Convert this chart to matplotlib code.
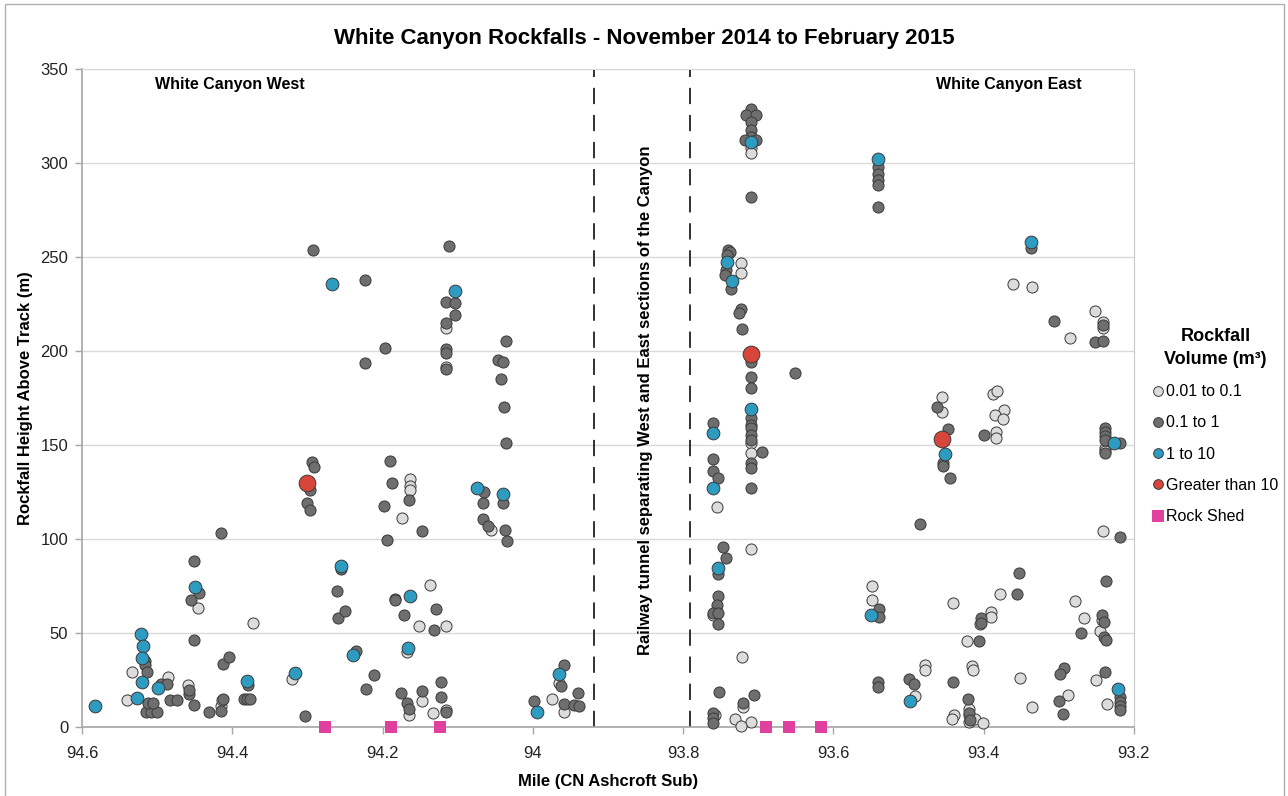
import matplotlib
matplotlib.use("Agg")
import matplotlib.pyplot as plt
from matplotlib.lines import Line2D
from matplotlib.patches import Rectangle

# rockfall location (mile) and height above track (m), grouped by volume class
small_mile = [94.540, 94.533, 94.485, 94.459, 94.446, 94.415, 94.414, 94.373, 94.321,
              94.164, 94.164, 94.163, 94.174, 94.152, 94.137, 94.115, 94.167, 94.165,
              94.147, 94.133, 94.115, 94.115, 94.115, 94.056, 93.975, 93.965, 93.958,
              93.710, 93.710, 93.710, 93.710, 93.710, 93.710, 93.723, 93.723, 93.755,
              93.760, 93.722, 93.720, 93.731, 93.723, 93.758, 93.548, 93.548, 93.361,
              93.336, 93.285, 93.252, 93.241, 93.241, 93.455, 93.456, 93.388, 93.382,
              93.373, 93.385, 93.374, 93.383, 93.383, 93.239, 93.239, 93.241, 93.378,
              93.279, 93.267, 93.242, 93.245, 93.441, 93.390, 93.390, 93.405, 93.422,
              93.351, 93.250, 93.236, 93.288, 93.336, 93.478, 93.478, 93.492, 93.416,
              93.414, 93.420, 93.420, 93.440, 93.442, 93.420, 93.411, 93.401]
small_height = [14.4, 29.4, 26.7, 22.4, 63.1, 10.9, 14.5, 55.5, 25.3,
                132.0, 128.4, 125.8, 111.0, 53.7, 75.6, 53.7, 39.8, 6.4,
                14.0, 7.3, 9.0, 212.0, 191.7, 105.0, 14.7, 23.2, 8.2,
                307.8, 305.2, 151.2, 145.6, 94.5, 2.8, 247.0, 241.7, 116.9,
                59.5, 37.4, 10.5, 4.3, 0.7, 6.5, 75.2, 67.5, 235.4,
                234.0, 207.0, 221.3, 215.5, 212.0, 175.5, 167.7, 177.0, 178.8,
                168.6, 165.8, 164.0, 157.0, 153.8, 148.5, 146.9, 104.0, 71.0,
                67.0, 57.8, 57.0, 51.3, 65.9, 61.3, 58.7, 54.8, 46.0,
                25.9, 25.0, 12.3, 17.0, 10.8, 33.0, 30.3, 16.7, 32.5,
                30.5, 9.4, 6.4, 6.4, 4.1, 2.8, 4.0, 2.3]

medium_mile = [94.515, 94.508, 94.500, 94.512, 94.505, 94.516, 94.516, 94.514, 94.495,
               94.487, 94.483, 94.473, 94.458, 94.457, 94.451, 94.431, 94.415, 94.412,
               94.412, 94.404, 94.451, 94.444, 94.455, 94.451, 94.415, 94.379, 94.385,
               94.380, 94.376, 94.303, 94.292, 94.223, 94.197, 94.223, 94.294, 94.291,
               94.297, 94.300, 94.297, 94.255, 94.261, 94.260, 94.250, 94.235, 94.212,
               94.222, 94.190, 94.187, 94.198, 94.194, 94.165, 94.148, 94.184, 94.183,
               94.172, 94.129, 94.131, 94.176, 94.168, 94.165, 94.148, 94.122, 94.122,
               94.115, 94.112, 94.115, 94.104, 94.104, 94.115, 94.115, 94.115, 94.115,
               94.036, 94.046, 94.040, 94.043, 94.039, 94.036, 94.065, 94.066, 94.067,
               94.060, 94.040, 94.037, 94.035, 93.999, 93.959, 93.963, 93.959, 93.940,
               93.945, 93.938,
               93.710, 93.717, 93.703, 93.710, 93.710, 93.710, 93.718, 93.703, 93.710,
               93.710, 93.710, 93.710, 93.710, 93.710, 93.710, 93.710, 93.710, 93.695,
               93.710, 93.710, 93.710, 93.651, 93.740, 93.738, 93.742, 93.743, 93.744,
               93.736, 93.723, 93.726, 93.722, 93.760, 93.760, 93.760, 93.754, 93.747,
               93.743, 93.753, 93.754, 93.755, 93.760, 93.754, 93.754, 93.752, 93.760,
               93.760, 93.760, 93.720, 93.706, 93.540, 93.540, 93.540, 93.540, 93.540,
               93.539, 93.539, 93.541, 93.541, 93.337, 93.307, 93.252, 93.241, 93.241,
               93.462, 93.448, 93.454, 93.454, 93.445, 93.485, 93.399, 93.239, 93.239,
               93.239, 93.239, 93.218, 93.239, 93.219, 93.353, 93.355, 93.237, 93.271,
               93.242, 93.240, 93.240, 93.237, 93.403, 93.403, 93.406, 93.293, 93.299,
               93.239, 93.300, 93.294, 93.219, 93.219, 93.219, 93.219, 93.500, 93.493,
               93.441, 93.421, 93.420, 93.418]
medium_height = [7.8, 7.8, 7.8, 13.0, 13.0, 35.2, 32.8, 29.4, 22.7,
                 22.7, 14.4, 14.4, 17.8, 19.7, 11.7, 8.2, 8.5, 14.7,
                 33.6, 37.1, 88.3, 71.5, 67.5, 46.3, 103.4, 22.4, 14.8,
                 14.7, 14.7, 5.9, 253.5, 238.0, 201.7, 193.6, 140.8, 138.5,
                 125.8, 118.9, 115.6, 84.0, 72.6, 57.8, 61.5, 40.5, 27.6,
                 20.0, 141.3, 129.7, 117.7, 99.4, 120.7, 104.0, 68.0, 67.5,
                 59.7, 62.7, 51.6, 17.9, 12.6, 9.4, 19.3, 24.0, 16.0,
                 8.2, 256.0, 226.2, 225.3, 219.0, 215.0, 201.2, 199.0, 190.6,
                 205.1, 195.2, 194.0, 185.0, 170.0, 151.0, 125.0, 119.0, 110.8,
                 106.8, 119.0, 105.0, 98.8, 14.0, 33.1, 22.0, 12.2, 18.2,
                 11.7, 11.0,
                 328.6, 325.5, 325.5, 322.0, 317.6, 314.0, 312.2, 312.2, 282.1,
                 194.3, 186.3, 180.2, 164.2, 160.7, 158.9, 155.3, 152.7, 146.4,
                 140.6, 137.6, 127.0, 188.5, 253.7, 252.5, 251.0, 243.0, 240.4,
                 233.0, 222.3, 220.0, 211.5, 161.5, 142.4, 136.3, 132.3, 95.9,
                 90.0, 81.5, 69.9, 64.9, 60.8, 60.8, 54.8, 18.4, 7.3,
                 4.6, 2.0, 12.6, 17.0, 298.1, 294.2, 291.2, 288.4, 276.8,
                 62.9, 58.3, 24.1, 21.5, 255.0, 216.0, 205.0, 205.5, 214.0,
                 170.4, 158.4, 140.4, 138.8, 132.3, 108.2, 155.2, 158.9, 157.0,
                 154.7, 152.4, 151.0, 146.0, 100.8, 82.1, 71.0, 77.9, 50.2,
                 59.4, 56.0, 47.9, 46.5, 57.8, 55.5, 46.0, 31.2, 28.2,
                 29.1, 14.0, 6.9, 16.2, 13.5, 11.2, 9.1, 25.3, 22.8,
                 24.1, 14.7, 7.3, 3.9]

large_mile = [94.583, 94.522, 94.519, 94.520, 94.520, 94.527, 94.499, 94.450, 94.380,
              94.317, 94.267, 94.255, 94.239, 94.164, 94.166, 94.103, 94.075, 94.040,
              93.994, 93.965,
              93.710, 93.741, 93.735, 93.710, 93.760, 93.760, 93.753, 93.540, 93.550,
              93.498, 93.337, 93.452, 93.226, 93.221]
large_height = [11.3, 49.5, 43.2, 36.5, 23.7, 15.6, 20.6, 74.5, 24.6,
                28.5, 235.7, 85.6, 38.3, 69.6, 41.9, 232.0, 127.0, 124.0,
                8.2, 28.2,
                311.3, 247.5, 237.4, 169.0, 156.2, 127.0, 84.8, 302.3, 59.4,
                14.0, 258.0, 145.0, 151.2, 20.0]

huge_mile = [94.300, 93.710, 93.456]
huge_height = [130.0, 198.2, 153.1]

shed_mile = [94.277, 94.189, 94.123, 93.690, 93.659, 93.617]
shed_height = [0, 0, 0, 0, 0, 0]

tunnel_ends = [93.919, 93.791]
x_ticks = [94.6, 94.4, 94.2, 94.0, 93.8, 93.6, 93.4, 93.2]
x_labels = ["94.6", "94.4", "94.2", "94", "93.8", "93.6", "93.4", "93.2"]
y_ticks = [0, 50, 100, 150, 200, 250, 300, 350]


def main():
    plt.rcParams["font.family"] = ["Liberation Sans", "DejaVu Sans"]

    fig = plt.figure(figsize=(12.88, 7.96), dpi=100)
    ax = fig.add_axes([0.0637, 0.0867, 0.8167, 0.8266])

    edge = dict(edgecolor="#3a3a3a", linewidths=0.7, clip_on=False)
    ax.scatter(small_mile, small_height, s=64, color="#dcdcdc", zorder=3, **edge)
    ax.scatter(medium_mile, medium_height, s=64, color="#6e6e6e", zorder=4, **edge)
    ax.scatter(large_mile, large_height, s=84, color="#2e9bc0", zorder=5, **edge)
    ax.scatter(huge_mile, huge_height, s=145, color="#d8453b", zorder=6, **edge)
    ax.scatter(shed_mile, shed_height, s=70, marker="s", color="#e0409e",
               linewidths=0, zorder=7, clip_on=False)

    for m in tunnel_ends:
        ax.axvline(m, color="#222222", lw=1.3, dashes=(9, 6), zorder=2)

    ax.set_xlim(94.6, 93.2)
    ax.set_ylim(0, 350)
    ax.set_xticks(x_ticks)
    ax.set_xticklabels(x_labels)
    ax.set_yticks(y_ticks)
    ax.tick_params(axis="both", direction="out", length=5, width=1, color="#a6a6a6",
                   labelsize=12, labelcolor="#222222")
    ax.tick_params(axis="x", pad=9)
    ax.tick_params(axis="y", pad=5)
    ax.grid(axis="y", color="#d9d9d9", lw=1)
    ax.set_axisbelow(True)
    for side in ["left", "bottom"]:
        ax.spines[side].set_color("#a6a6a6")
        ax.spines[side].set_linewidth(1.2)
    ax.spines["right"].set_color("#c8c8c8")
    ax.spines["top"].set_color("#d9d9d9")

    ax.set_xlabel("Mile (CN Ashcroft Sub)", fontsize=12, fontweight="bold", labelpad=9)
    ax.set_ylabel("Rockfall Height Above Track (m)", fontsize=12, fontweight="bold", labelpad=5)
    fig.text(0.5, 0.952, "White Canyon Rockfalls - November 2014 to February 2015",
             fontsize=16, fontweight="bold", ha="center", va="center")

    ax.text(94.403, 341.5, "White Canyon West", fontsize=11.5, fontweight="bold",
            ha="center", va="center")
    ax.text(93.366, 341.5, "White Canyon East", fontsize=11.5, fontweight="bold",
            ha="center", va="center")
    ax.text(93.85, 174, "Railway tunnel separating West and East sections of the Canyon",
            rotation=90, fontsize=12, fontweight="bold", ha="center", va="center")

    handles = [
        Line2D([], [], ls="", marker="o", ms=7, mfc="#dcdcdc", mec="#3a3a3a", mew=0.7),
        Line2D([], [], ls="", marker="o", ms=7, mfc="#6e6e6e", mec="#3a3a3a", mew=0.7),
        Line2D([], [], ls="", marker="o", ms=7, mfc="#2e9bc0", mec="#3a3a3a", mew=0.7),
        Line2D([], [], ls="", marker="o", ms=7, mfc="#d8453b", mec="#3a3a3a", mew=0.7),
        Line2D([], [], ls="", marker="s", ms=8, mfc="#e0409e", mec="#e0409e", mew=0),
    ]
    labels = ["0.01 to 0.1", "0.1 to 1", "1 to 10", "Greater than 10", "Rock Shed"]
    leg = fig.legend(handles, labels, loc="upper left", bbox_to_anchor=(0.895, 0.588),
                     frameon=False, fontsize=11.5, handlelength=0.6, handletextpad=0.25,
                     labelspacing=1.02, borderaxespad=0, borderpad=0,
                     title="Rockfall\nVolume (m³)",
                     title_fontproperties={"weight": "bold", "size": 13})
    leg.get_title().set_multialignment("center")
    leg.get_title().set_linespacing(1.45)

    fig.patches.append(Rectangle((0.004, -0.01), 0.993, 1.005, transform=fig.transFigure,
                                 fill=False, edgecolor="#b0b0b0", lw=1))

    fig.savefig("out.png", dpi=100)


if __name__ == "__main__":
    main()
